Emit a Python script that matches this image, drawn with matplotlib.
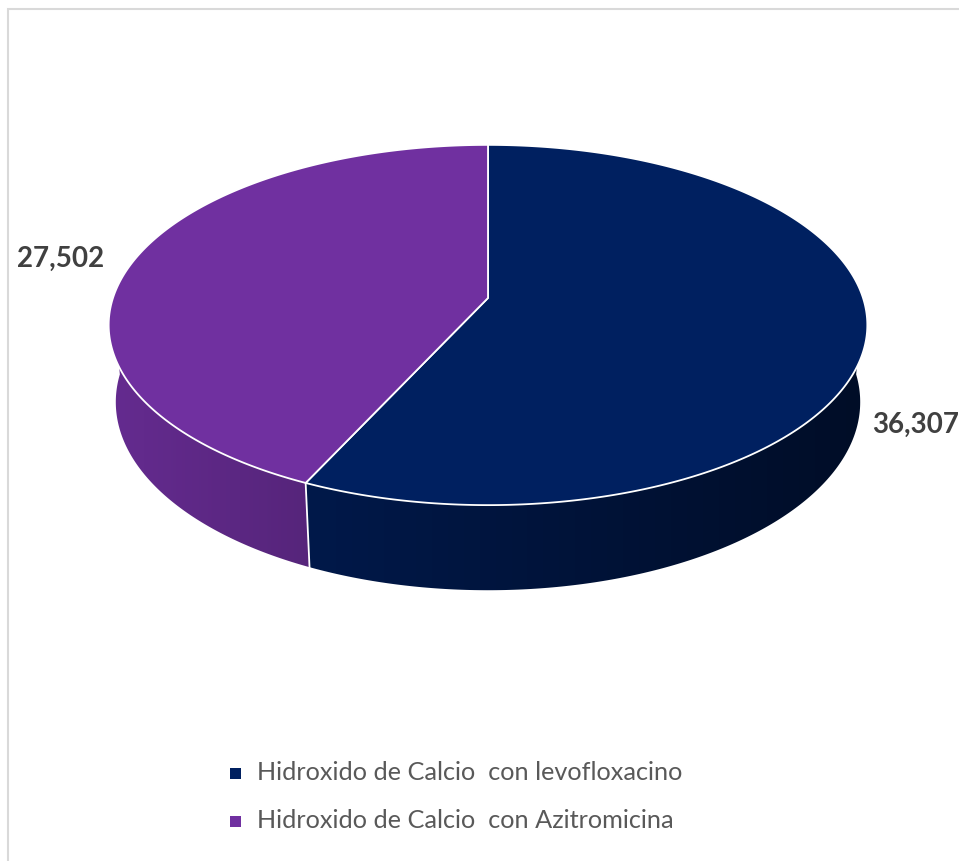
import numpy as np
import matplotlib.pyplot as plt
from matplotlib.patches import Polygon, Rectangle
from matplotlib.colors import to_rgb

categories = ['Hidroxido de Calcio  con levofloxacino',
              'Hidroxido de Calcio  con Azitromicina']
values = [36.307, 27.502]
labels = ['36,307', '27,502']
colors = ['#002060', '#7030A0']

W, H = 959, 861
fig = plt.figure(figsize=(W / 100, H / 100), dpi=100)
ax = fig.add_axes([0, 0, 1, 1])
ax.set_xlim(0, W)
ax.set_ylim(H, 0)
ax.axis('off')

# perspective camera for the 3d disc
elev = np.radians(28)
c, s = np.cos(elev), np.sin(elev)
D = 5.89
F = 2209.0
cx, cy = 488.0, 298.0
thick = 0.235


def project(phi, z=0.0, r=1.0):
    x = r * np.cos(phi)
    y = r * np.sin(phi)
    depth = y * c - z * s + D
    return cx + F * x / depth, cy - F * (y * s + z * c) / depth


def arc(a0, a1, z=0.0, n=200):
    phi = np.radians(np.linspace(a0, a1, n))
    sx, sy = project(phi, z)
    return np.column_stack([sx, sy])


total = sum(values)
starts, ends = [], []
a = 90.0
for v in values:
    starts.append(a)
    a -= 360.0 * v / total
    ends.append(a)

x_left, x_right = 105, 872


def shade(x):
    # side walls get lighter on the left, darker on the right
    t = np.clip((x - x_left) / (x_right - x_left), 0, 1)
    return 0.9 - 0.5 * t


# side walls (only the front half is visible)
for st, en, col in zip(starts, ends, colors):
    lo = max(min(st, en), -180.0)
    hi = min(max(st, en), 0.0)
    if lo >= hi:
        # wrap around
        lo2, hi2 = max(min(st, en) + 360, -180.0), min(max(st, en) + 360, 0.0)
        lo, hi = lo2, hi2
    if lo < -180.0:
        lo = -180.0
    top = arc(lo, hi, 0.0)
    bot = arc(hi, lo, -thick)
    pts = np.vstack([top, bot])
    poly = Polygon(pts, closed=True, facecolor='none', edgecolor='none')
    ax.add_patch(poly)
    x0, x1 = pts[:, 0].min() - 2, pts[:, 0].max() + 2
    y0, y1 = pts[:, 1].min() - 2, pts[:, 1].max() + 2
    xs = np.linspace(x0, x1, 400)
    rgb = np.array(to_rgb(col))
    img = shade(xs)[None, :, None] * rgb[None, None, :]
    im = ax.imshow(img, extent=(x0, x1, y1, y0), aspect='auto',
                   interpolation='bilinear', zorder=2)
    im.set_clip_path(poly)

# white seam between the two side walls
seam = ends[0]
sx0, sy0 = project(np.radians(seam), 0.0)
sx1, sy1 = project(np.radians(seam), -thick)
ax.plot([sx0, sx1], [sy0, sy1], color='white', lw=1.3, zorder=3)

# top faces
for st, en, col in zip(starts, ends, colors):
    pts = np.vstack([[cx, cy], arc(st, en, 0.0, 400)])
    ax.add_patch(Polygon(pts, closed=True, facecolor=col, edgecolor='white',
                         lw=1.3, joinstyle='round', zorder=4))

# data labels
label_offsets = [(49, 88), (-73, -2)]
for st, en, lab, off in zip(starts, ends, labels, label_offsets):
    mid = np.radians((st + en) / 2)
    lx, ly = project(mid, 0.0)
    ax.text(lx + off[0], ly + off[1], lab, ha='center', va='center',
            fontsize=20, fontweight='bold', color='#404040',
            family=['Lato', 'DejaVu Sans'], zorder=5)

# legend
leg_y = [773, 821]
for yy, col, name in zip(leg_y, colors, categories):
    ax.add_patch(Rectangle((229.5, yy - 5.5), 11, 11, facecolor=col,
                           edgecolor='none'))
    ax.text(257, yy, name, ha='left', va='center', fontsize=18.2,
            color='#595959', family=['Lato', 'DejaVu Sans'])

# chart frame
ax.plot([8, 8, W + 5], [H + 5, 8.5, 8.5], color='#D9D9D9', lw=1.5,
        solid_joinstyle='miter')

fig.savefig('out.png', dpi=100)
